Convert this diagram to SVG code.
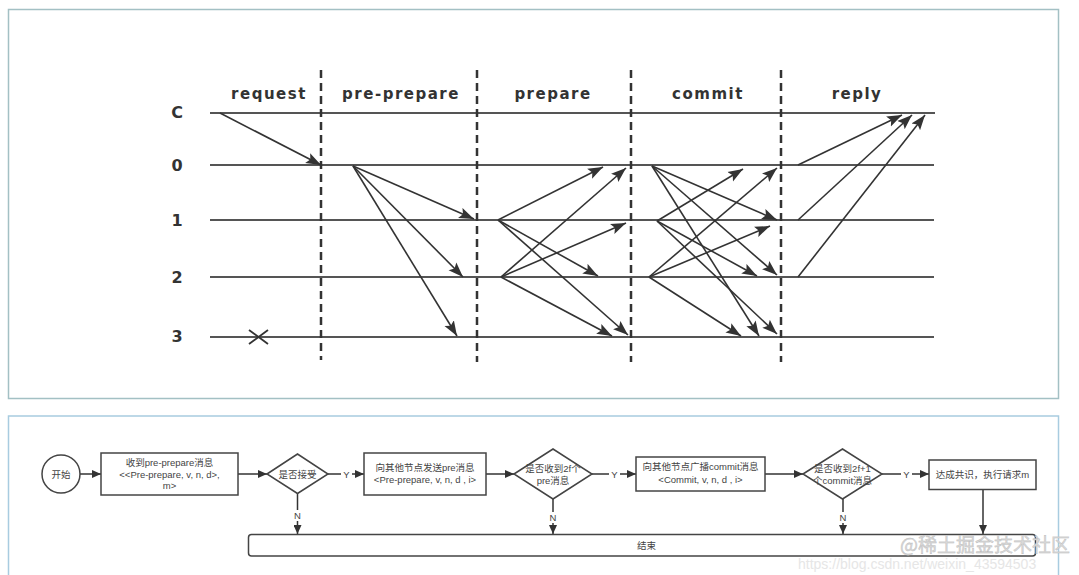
<svg xmlns="http://www.w3.org/2000/svg" width="1079" height="575" viewBox="0 0 1079 575">
<defs>
<marker id="ah" markerUnits="userSpaceOnUse" markerWidth="16" markerHeight="12" viewBox="0 0 16 12" refX="15" refY="6" orient="auto">
<path d="M0,0.5 L15,6 L0,11.5 L3,6 z" fill="#333"/>
</marker>
<marker id="fa" markerUnits="userSpaceOnUse" markerWidth="10" markerHeight="8" viewBox="0 0 10 8" refX="9" refY="4" orient="auto">
<path d="M0,0 L9,4 L0,8 z" fill="#333"/>
</marker>
<style>
.panel{fill:#fff;stroke:#a3c0c4;stroke-width:1.5}
.panel2{fill:#fff;stroke:#a8cce0;stroke-width:1.5}
.tl{stroke:#555;stroke-width:2}
.dash{stroke:#333;stroke-width:2.5;stroke-dasharray:8 5}
.msg{stroke:#333;stroke-width:1.6;fill:none;marker-end:url(#ah)}
.ph{font-family:"DejaVu Sans",sans-serif;font-weight:bold;font-size:15px;letter-spacing:1.5px;fill:#333;text-anchor:middle}
.nd{font-family:"DejaVu Sans",sans-serif;font-weight:bold;font-size:16px;fill:#333;text-anchor:middle}
.box{fill:#fff;stroke:#444;stroke-width:1.5}
.fl{stroke:#333;stroke-width:1.5;fill:none}
.fla{stroke:#333;stroke-width:1.5;fill:none;marker-end:url(#fa)}
.ft{font-family:"Liberation Sans","Noto Sans CJK SC",sans-serif;font-size:9.5px;fill:#444;text-anchor:middle}
</style>
</defs>
<rect width="1079" height="575" fill="#fff"/>
<rect class="panel" x="8.5" y="9.5" width="1050" height="389"/>
<rect class="panel2" x="8.5" y="416" width="1050" height="165"/>

<g id="phase-labels">
<text class="ph" x="269" y="99">request</text>
<text class="ph" x="401" y="99">pre-prepare</text>
<text class="ph" x="553" y="99">prepare</text>
<text class="ph" x="708" y="99">commit</text>
<text class="ph" x="857" y="99">reply</text>
</g>

<g id="node-C"><text class="nd" x="177" y="118">C</text><line class="tl" x1="210" y1="113" x2="935" y2="113"/></g>
<g id="node-0"><text class="nd" x="177" y="171">0</text><line class="tl" x1="210" y1="165" x2="934" y2="165"/></g>
<g id="node-1"><text class="nd" x="177" y="226">1</text><line class="tl" x1="210" y1="220" x2="934" y2="220"/></g>
<g id="node-2"><text class="nd" x="177" y="283">2</text><line class="tl" x1="210" y1="277" x2="934" y2="277"/></g>
<g id="node-3"><text class="nd" x="177" y="342">3</text><line class="tl" x1="210" y1="337" x2="934" y2="337"/>
<path d="M249,330 L268,344 M249,344 L268,330" stroke="#333" stroke-width="1.8"/></g>

<g id="phase-dividers">
<line class="dash" x1="321" y1="70" x2="321" y2="360"/>
<line class="dash" x1="477" y1="70" x2="477" y2="362"/>
<line class="dash" x1="631" y1="70" x2="631" y2="362"/>
<line class="dash" x1="781" y1="70" x2="781" y2="362"/>
</g>

<g id="connectors">
<line class="msg" x1="220" y1="113" x2="321" y2="165"/>
<line class="msg" x1="353" y1="166" x2="474" y2="219"/>
<line class="msg" x1="353" y1="166" x2="463" y2="277"/>
<line class="msg" x1="353" y1="166" x2="457" y2="336"/>
<line class="msg" x1="498" y1="220" x2="603" y2="167"/>
<line class="msg" x1="498" y1="220" x2="598" y2="276"/>
<line class="msg" x1="498" y1="220" x2="628" y2="335"/>
<line class="msg" x1="501" y1="277" x2="626" y2="168"/>
<line class="msg" x1="501" y1="277" x2="626" y2="223"/>
<line class="msg" x1="501" y1="277" x2="612" y2="336"/>
<line class="msg" x1="652" y1="166" x2="777" y2="220"/>
<line class="msg" x1="652" y1="166" x2="777" y2="275"/>
<line class="msg" x1="652" y1="166" x2="759" y2="336"/>
<line class="msg" x1="657" y1="221" x2="743" y2="169"/>
<line class="msg" x1="657" y1="221" x2="757" y2="276"/>
<line class="msg" x1="657" y1="221" x2="777" y2="334"/>
<line class="msg" x1="649" y1="277" x2="777" y2="168"/>
<line class="msg" x1="649" y1="277" x2="770" y2="226"/>
<line class="msg" x1="649" y1="277" x2="741" y2="336"/>
<line class="msg" x1="798" y1="165" x2="902" y2="115"/>
<line class="msg" x1="798" y1="220" x2="912" y2="115"/>
<line class="msg" x1="798" y1="277" x2="925" y2="115"/>
</g>

<g id="flow-connectors">
<line class="fla" x1="80" y1="474" x2="101" y2="474"/>
<line class="fla" x1="238" y1="474" x2="267" y2="474"/>
<line class="fl" x1="328" y1="474" x2="341" y2="474"/>
<line class="fla" x1="352" y1="474" x2="364" y2="474"/>
<text class="ft" x="346.5" y="477.5">Y</text>
<line class="fl" x1="297.5" y1="493" x2="297.5" y2="510"/>
<line class="fla" x1="297.5" y1="521" x2="297.5" y2="534"/>
<text class="ft" x="297.5" y="519">N</text>
<line class="fla" x1="486" y1="474" x2="514" y2="474"/>
<line class="fl" x1="592" y1="474" x2="609" y2="474"/>
<line class="fla" x1="620" y1="474" x2="636" y2="474"/>
<text class="ft" x="614.5" y="477.5">Y</text>
<line class="fl" x1="553" y1="499" x2="553" y2="512"/>
<line class="fla" x1="553" y1="523" x2="553" y2="534"/>
<text class="ft" x="553" y="521">N</text>
<line class="fla" x1="765" y1="474" x2="803" y2="474"/>
<line class="fl" x1="882" y1="474" x2="901" y2="474"/>
<line class="fla" x1="912" y1="474" x2="929" y2="474"/>
<text class="ft" x="906.5" y="477.5">Y</text>
<line class="fl" x1="843" y1="499" x2="843" y2="512"/>
<line class="fla" x1="843" y1="523" x2="843" y2="534"/>
<text class="ft" x="843" y="521">N</text>
<line class="fla" x1="983" y1="489.5" x2="983" y2="534"/>
</g>

<g id="start"><circle class="box" cx="61" cy="474" r="19"/><text class="ft" x="61" y="477.5">开始</text></g>
<g id="receive"><rect class="box" x="101" y="453" width="137" height="42"/>
<text class="ft" x="169.5" y="466">收到pre-prepare消息</text>
<text class="ft" x="169.5" y="477.5">&lt;&lt;Pre-prepare, v, n, d&gt;,</text>
<text class="ft" x="169.5" y="489">m&gt;</text></g>
<g id="accept"><path class="box" d="M267,474 L297.5,454 L328,474 L297.5,493.5 z"/><text class="ft" x="297.5" y="477.5">是否接受</text></g>
<g id="send-pre"><rect class="box" x="364" y="453" width="122" height="42"/>
<text class="ft" x="425" y="471">向其他节点发送pre消息</text>
<text class="ft" x="425" y="483">&lt;Pre-prepare, v, n, d , i&gt;</text></g>
<g id="check-2f"><path class="box" d="M514,474 L553,449 L592,474 L553,499 z"/>
<text class="ft" x="553" y="472">是否收到2f个</text>
<text class="ft" x="553" y="484">pre消息</text></g>
<g id="broadcast-commit"><rect class="box" x="636" y="457" width="129" height="34"/>
<text class="ft" x="700.5" y="470">向其他节点广播commit消息</text>
<text class="ft" x="700.5" y="483">&lt;Commit, v, n, d , i&gt;</text></g>
<g id="check-2f1"><path class="box" d="M803,474 L842.5,449 L882,474 L842.5,499 z"/>
<text class="ft" x="842.5" y="472">是否收到2f+1</text>
<text class="ft" x="842.5" y="484">个commit消息</text></g>
<g id="consensus"><rect class="box" x="929" y="460" width="107" height="29.5"/>
<text class="ft" x="982.5" y="477.5">达成共识，执行请求m</text></g>
<g id="end"><rect class="box" x="248.5" y="534.5" width="787" height="21.5" rx="3"/>
<text class="ft" x="646.5" y="548.5">结束</text></g>

<g id="watermark">
<text x="798" y="569" font-family="Liberation Sans,sans-serif" font-size="14" fill="#e6e6e6">https://blog.csdn.net/weixin_43594503</text>
<text x="900" y="552" font-family="Noto Sans CJK SC,sans-serif" font-size="19" fill="#d9d9d9" stroke="#bbb" stroke-width="0.4">@稀土掘金技术社区</text>
</g>
</svg>
